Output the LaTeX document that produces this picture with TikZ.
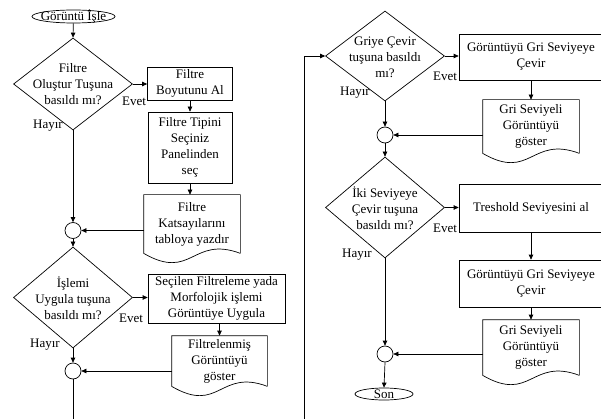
\documentclass[tikz,border=0pt]{standalone}
\usepackage{fontspec}
\setmainfont{Liberation Serif}
\usetikzlibrary{shapes.geometric,arrows.meta,calc}
\newcommand\docshape[1]{\draw (#1.south east) -- (#1.north east) -- (#1.north west) -- (#1.south west) .. controls ($(#1.south)+(0,28)$) and ($(#1.south)+(0,-18)$) .. (#1.south east);}
\begin{document}
\begin{tikzpicture}[x=1pt,y=-1pt,
  font=\fontsize{13}{16}\selectfont,
  line width=0.7pt,
  arr/.style={-{Triangle[length=5pt,width=4.5pt]}},
  dia/.style={diamond,draw,minimum width=119pt,minimum height=#1,inner sep=0pt},
  proc/.style={rectangle,draw,minimum width=#1,inner sep=0pt,align=center},
  docn/.style={rectangle,minimum width=96pt,inner sep=0pt,align=center},
  term/.style={ellipse,draw,inner sep=0pt},
  junc/.style={circle,draw,minimum size=16pt,inner sep=0pt},
  txt/.style={align=center,inner sep=0pt},
  lbl/.style={inner sep=0pt}
]
\useasboundingbox (0,0) rectangle (601,419);

% ---------- left column ----------
\node[term,minimum width=83pt,minimum height=13pt] (start) at (73.5,16.5) {};
\node[txt] (startt) at (start) {Görüntü İşle};

\node[dia=92pt] (d1) at (73,84) {};
\node[txt] (d1t) at (73,84.5) {Filtre\\Oluştur Tuşuna\\basıldı mı?};

\node[proc=85pt,minimum height=33pt] (b1) at (190,83.5) {Filtre\\Boyutunu Al};
\node[proc=84pt,minimum height=71pt] (b2) at (190,147.5) {Filtre Tipini\\Seçiniz\\Panelinden\\seç};
\node[docn,minimum width=96pt,minimum height=58pt] (doc1) at (192,224) {Filtre\\Katsayılarını\\tabloya yazdır};
\docshape{doc1}

\node[junc] (c1) at (73,230.5) {};

\node[dia=101pt] (d2) at (73,297.5) {};
\node[txt] (d2t) at (73,298.5) {İşlemi\\Uygula tuşuna\\basıldı mı?};

\node[proc=137pt,minimum height=49pt] (b3) at (216.5,298.5) {Seçilen Filtreleme yada\\Morfolojik işlemi\\Görüntüye Uygula};
\node[docn,minimum width=95pt,minimum height=50pt] (doc2) at (219.5,361) {Filtrelenmiş\\Görüntüyü\\göster};
\docshape{doc2}

\node[junc] (c2) at (73,371) {};
\coordinate (lend) at (73,420);

\node[lbl] (e1) at (134,101) {Evet};
\node[lbl] (h1) at (48,126) {Hayır};
\node[lbl] (e2) at (131,318) {Evet};
\node[lbl] (h2) at (45,345) {Hayır};

\draw[arr] (start) -- (d1.north);
\draw[arr] (d1.east) -- (b1.west |- d1.east);
\draw[arr] (b1.south) -- (b2.north);
\draw[arr] (b2.south) -- (b2.south |- doc1.north);
\draw[arr] (c1 -| doc1.west) -- (c1.east);
\draw[arr] (d1.south) -- (c1.north);
\draw[arr] (c1.south) -- (d2.north);
\draw[arr] (d2.east) -- (b3.west |- d2.east);
\draw[arr] (doc2.north |- b3.south) -- (doc2.north);
\draw[arr] (c2 -| doc2.west) -- (c2.east);
\draw[arr] (d2.south) -- (c2.north);
\draw (c2.south) -- (lend);

% ---------- right column ----------
\coordinate (rbot) at (304,420);
\coordinate (rtop) at (304,56);

\node[dia=90pt] (d3) at (385,56) {};
\node[txt] (d3t) at (385,57.5) {Griye Çevir\\tuşuna basıldı\\mı?};

\node[proc=144pt,minimum height=46pt] (b4) at (531,57) {Görüntüyü Gri Seviyeye\\Çevir};
\node[docn,minimum width=96pt,minimum height=53pt] (doc3) at (531,126.5) {Gri Seviyeli\\Görüntüyü\\göster};
\docshape{doc3}

\node[junc] (c3) at (385,135) {};

\node[dia=101pt] (d4) at (385,207.5) {};
\node[txt] (d4t) at (385,208.7) {İki Seviyeye\\Çevir tuşuna\\basıldı mı?};

\node[proc=144pt,minimum height=48pt] (b5) at (531,208) {Treshold Seviyesini al};
\node[proc=144pt,minimum height=47pt] (b6) at (531,283.5) {Görüntüyü Gri Seviyeye\\Çevir};
\node[docn,minimum width=96pt,minimum height=55pt] (doc4) at (531,347.5) {Gri Seviyeli\\Görüntüyü\\göster};
\docshape{doc4}

\node[junc] (c4) at (385,354) {};
\node[term,minimum width=58pt,minimum height=12pt] (son) at (384,394) {};
\node[txt] (sont) at (son) {Son};

\node[lbl] (e3) at (445,76) {Evet};
\node[lbl] (h3) at (355,93) {Hayır};
\node[lbl] (e4) at (445,228) {Evet};
\node[lbl] (h4) at (357,255) {Hayır};

\draw[arr] (rbot) -- (rtop) -- (d3.west);
\draw[arr] (d3.east) -- (b4.west |- d3.east);
\draw[arr] (b4.south) -- (doc3.north);
\draw[arr] (c3 -| doc3.west) -- (c3.east);
\draw[arr] (d3.south) -- (c3.north);
\draw[arr] (c3.south) -- (d4.north);
\draw[arr] (d4.east) -- (b5.west |- d4.east);
\draw[arr] (b5.south) -- (b6.north);
\draw[arr] (b6.south) -- (doc4.north);
\draw[arr] (c4 -| doc4.west) -- (c4.east);
\draw[arr] (d4.south) -- (c4.north);
\draw[arr] (c4.south) -- (son.north);
\end{tikzpicture}
\end{document}
